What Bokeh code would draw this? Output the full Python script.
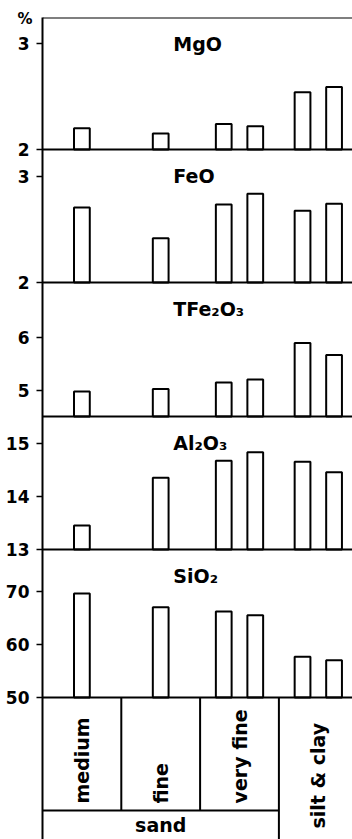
import numpy as np
from bokeh.plotting import figure
from bokeh.models import Range1d, FixedTicker, Span
from bokeh.core.properties import value
from bokeh.embed import file_html
from bokeh.resources import INLINE

# ---------------- data ----------------
fractions = ["medium", "fine", "very fine", "silt & clay"]
sand_fractions = ["medium", "fine", "very fine"]
sample_fraction = ["medium", "fine", "very fine", "very fine", "silt & clay", "silt & clay"]

oxide_names = ["MgO", "FeO", "TFe2O3", "Al2O3", "SiO2"]
oxide_titles = ["MgO", "FeO", "TFe\u2082O\u2083", "Al\u2082O\u2083", "SiO\u2082"]

mgo = [2.20, 2.15, 2.24, 2.22, 2.54, 2.59]
feo = [2.71, 2.42, 2.74, 2.84, 2.68, 2.745]
tfe2o3 = [4.97, 5.02, 5.14, 5.20, 5.89, 5.66]
al2o3 = [13.45, 14.35, 14.67, 14.83, 14.65, 14.45]
sio2 = [69.6, 67.0, 66.2, 65.5, 57.7, 57.0]

axis_min = [2.0, 2.0, 4.5, 13.0, 50.0]
axis_max = [3.245, 3.26, 7.03, 15.5, 77.9]
tick_values = [[2, 3], [2, 3], [5, 6], [13, 14, 15], [50, 60, 70]]
unit_label = "%"

series = [mgo, feo, tfe2o3, al2o3, sio2]

# ---------------- layout ----------------
W, H = 352, 839
LEFT, TOP = 42, 17
FW, FH = W - LEFT, H - TOP
COL_PX = 78.8
XMAX = FW / COL_PX
# bands (main coords: px above frame bottom)
bands = [(690, 822), (557, 690), (423, 557), (290, 423), (142, 290)]
TABLE_TOP = 142
SAND_LINE = 29

FONT = "DejaVu Sans"

p = figure(width=W, height=H, output_backend="svg", toolbar_location=None,
           x_range=Range1d(0, XMAX), y_range=Range1d(0, FH),
           min_border_left=LEFT, min_border_top=TOP, min_border_right=0, min_border_bottom=0)
p.outline_line_color = None
p.xgrid.visible = False
p.ygrid.visible = False
p.xaxis.visible = False
p.background_fill_color = "white"
p.border_fill_color = "white"

# "%" unit label, placed as a left-aligned title shifted over the axis
p.title.text = unit_label
p.title.align = "left"
p.title.offset = -25
p.title.standoff = -20
p.title.text_font = FONT
p.title.text_font_style = "bold"
p.title.text_font_size = "15px"
p.title.text_color = "black"
p.title.vertical_align = "bottom"

# bar x positions from fraction membership
xs = []
for i, f in enumerate(sample_fraction):
    k = fractions.index(f)
    members = [j for j, g in enumerate(sample_fraction) if g == f]
    n = len(members)
    pos = members.index(i)
    off = 0.0 if n == 1 else (-0.2 + 0.4 * pos / (n - 1))
    xs.append(k + 0.5 + off)

tick_pos = []
overrides = {}
for name, title, vals, v0, v1, tv, (b0, b1) in zip(oxide_names, oxide_titles, series,
                                                    axis_min, axis_max, tick_values, bands):
    scale = (v1 - v0) / (b1 - b0)
    p.extra_y_ranges[name] = Range1d(v0 - b0 * scale, v0 + (FH - b0) * scale)
    p.vbar(x=xs, top=vals, bottom=v0, width=0.2, y_range_name=name,
           fill_color="white", line_color="black", line_width=2)
    for t in tv:
        yp = round(b0 + (t - v0) / (v1 - v0) * (b1 - b0), 3)
        tick_pos.append(yp)
        overrides[yp] = str(t)
    p.text(x=[1.66], y=[b1 - 26], text=[title], text_font=value(FONT),
           text_font_style="bold", text_font_size=value("19px"),
           text_align="left", text_baseline="alphabetic", text_color="black")
    p.add_layout(Span(location=b0, dimension="width", line_color="black", line_width=2))

p.add_layout(Span(location=FH, dimension="width", line_color="black", line_width=2))

ax = p.yaxis[0]
ax.ticker = FixedTicker(ticks=tick_pos, minor_ticks=[])
ax.major_label_overrides = overrides
ax.axis_line_width = 2
ax.axis_line_color = "black"
ax.major_tick_line_width = 1.5
ax.major_tick_out = 6
ax.major_tick_in = 0
ax.minor_tick_line_color = None
ax.major_label_standoff = 7
ax.major_label_text_font = FONT
ax.major_label_text_font_style = "bold"
ax.major_label_text_font_size = "17px"
ax.major_label_text_color = "black"

# ---------------- table ----------------
n_sand = len(sand_fractions)
x0s, y0s, x1s, y1s = [], [], [], []
for k in range(1, len(fractions)):
    x0s.append(k); x1s.append(k)
    y0s.append(SAND_LINE if k < n_sand else 0); y1s.append(TABLE_TOP)
x0s.append(0); x1s.append(n_sand); y0s.append(SAND_LINE); y1s.append(SAND_LINE)
p.segment(x0=x0s, y0=y0s, x1=x1s, y1=y1s, line_color="black", line_width=2)

lab_x = [fractions.index(f) + 0.5 for f in fractions]
lab_y = [SAND_LINE + 7 if f in sand_fractions else 11 for f in fractions]
p.text(x=lab_x, y=lab_y, text=fractions, angle=np.pi / 2, text_font=value(FONT),
       text_font_style="bold", text_font_size=value("19px"),
       text_align="left", text_baseline="middle", text_color="black")
p.text(x=[n_sand / 2], y=[15], text=["sand"], text_font=value(FONT),
       text_font_style="bold", text_font_size=value("19px"),
       text_align="center", text_baseline="middle", text_color="black")

open("out.html", "w").write(file_html(p, INLINE))
